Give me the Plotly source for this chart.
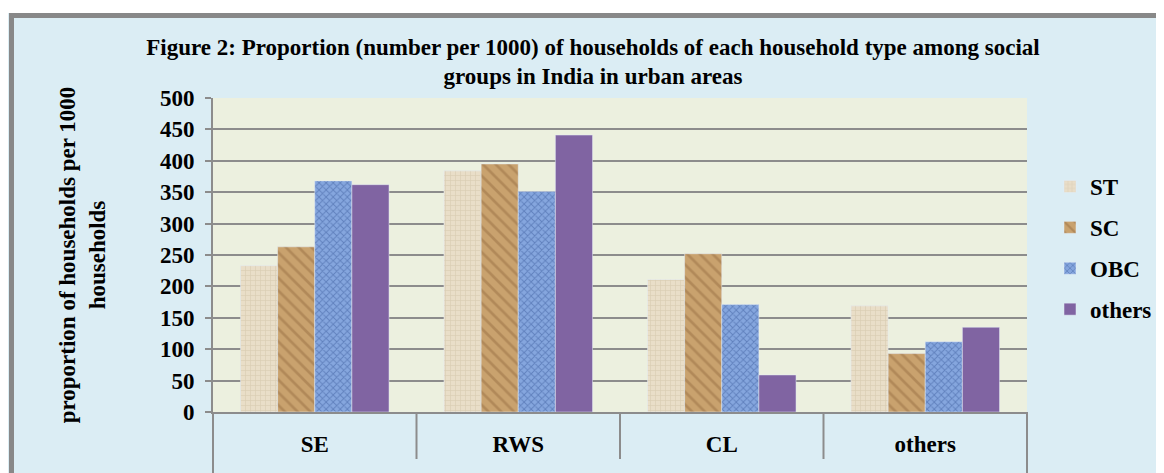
import plotly.graph_objects as go

# Household types (categories) and social groups (series)
household_types = ["SE", "RWS", "CL", "others"]
st = [233, 384, 211, 169]
sc = [263, 395, 252, 93]
obc = [368, 351, 171, 112]
others = [362, 441, 59, 135]

y_ticks = list(range(0, 501, 50))

FONT = "Liberation Serif, Times New Roman, serif"
GRID = "#8c8c8c"
FS = 23

# the page body adds an 8px margin, so window pixels = figure pixels + 8
OFF = 8
# plot area in window pixels
L, R, T, B = 213, 1027, 98, 412
W, H = R - L, B - T


def px_x(px):
    return (px - L) / W


def px_y(py):
    return (B - py) / H


fig = go.Figure()

fig.add_trace(go.Bar(
    x=household_types, y=st, name="ST", legendgroup="st",
    marker=dict(color="#e6d9c1",
                pattern=dict(shape="+", fgcolor="#cbbc9f", bgcolor="#e9dec8",
                             size=5, solidity=0.25)),
))
fig.add_trace(go.Bar(
    x=household_types, y=sc, name="SC", legendgroup="sc",
    marker=dict(color="#c39a66",
                pattern=dict(shape="\\", fgcolor="#9a7043", bgcolor="#c9a26e",
                             size=9, solidity=0.3)),
))
fig.add_trace(go.Bar(
    x=household_types, y=obc, name="OBC", legendgroup="obc",
    marker=dict(color="#7d9ed8",
                pattern=dict(shape="x", fgcolor="#3d5c9c", bgcolor="#85a6de",
                             size=5, solidity=0.35)),
))
fig.add_trace(go.Bar(
    x=household_types, y=others, name="others", legendgroup="others",
    marker=dict(color="#8064a2"),
))

shapes = [
    # white strip above the chart frame
    dict(type="rect", xref="paper", yref="paper", layer="below",
         x0=px_x(0), x1=px_x(1180), y0=px_y(13), y1=px_y(0),
         fillcolor="white", line=dict(width=0)),
    # gray frame edges
    dict(type="line", xref="paper", yref="paper",
         x0=px_x(9), x1=px_x(1180), y0=px_y(15.5), y1=px_y(15.5),
         line=dict(color="#888888", width=5)),
    dict(type="line", xref="paper", yref="paper",
         x0=px_x(11.5), x1=px_x(11.5), y0=px_y(490), y1=px_y(13),
         line=dict(color="#888888", width=5)),
    # axis edges extended below the plot
    dict(type="line", xref="paper", yref="paper",
         x0=0, x1=0, y0=px_y(490), y1=0,
         line=dict(color=GRID, width=2)),
    dict(type="line", xref="paper", yref="paper",
         x0=1, x1=1, y0=px_y(490), y1=0,
         line=dict(color=GRID, width=2)),
]
# category dividers
for b in [0.5, 1.5, 2.5]:
    shapes.append(dict(type="line", xref="x", yref="paper",
                       x0=b, x1=b, y0=px_y(459), y1=0,
                       line=dict(color=GRID, width=2)))

fig.update_layout(
    width=1164, height=473,
    margin=dict(l=L - OFF, r=1164 - (R - OFF), t=T - OFF, b=473 - (B - OFF),
                autoexpand=False),
    paper_bgcolor="#dbedf4",
    plot_bgcolor="#ecf0df",
    font=dict(family=FONT, size=FS, color="black"),
    barmode="group",
    bargap=0.27,
    bargroupgap=0,
    title=dict(
        text="<b>Figure 2: Proportion (number per 1000) of households of each household type among social"
             "<br>groups in India in urban areas</b>",
        x=px_x(593), xref="paper", xanchor="center",
        y=(473 - 46.5) / 473, yref="container", yanchor="middle",
        font=dict(size=FS, family=FONT),
    ),
    xaxis=dict(
        showgrid=False, showline=True, linecolor=GRID, linewidth=2,
        ticks="", ticklabelstandoff=10,
        tickfont=dict(size=FS, family=FONT, weight="bold"),
    ),
    yaxis=dict(
        range=[0, 500], tickvals=y_ticks,
        showgrid=True, gridcolor=GRID, gridwidth=2,
        showline=True, linecolor=GRID, linewidth=2,
        ticks="outside", ticklen=6, tickcolor=GRID, tickwidth=2,
        ticklabelstandoff=6,
        tickfont=dict(size=FS, family=FONT, weight="bold"),
        zeroline=False,
        title=dict(text="<b>proportion of households per 1000<br>households</b>",
                   font=dict(size=FS, family=FONT), standoff=48),
    ),
    legend=dict(
        x=px_x(1050), y=px_y(165), xanchor="left", yanchor="top",
        bgcolor="rgba(0,0,0,0)",
        font=dict(size=FS, family=FONT, weight="bold"),
        tracegroupgap=8, itemwidth=30,
    ),
    shapes=shapes,
)

fig.write_html("out.html")
